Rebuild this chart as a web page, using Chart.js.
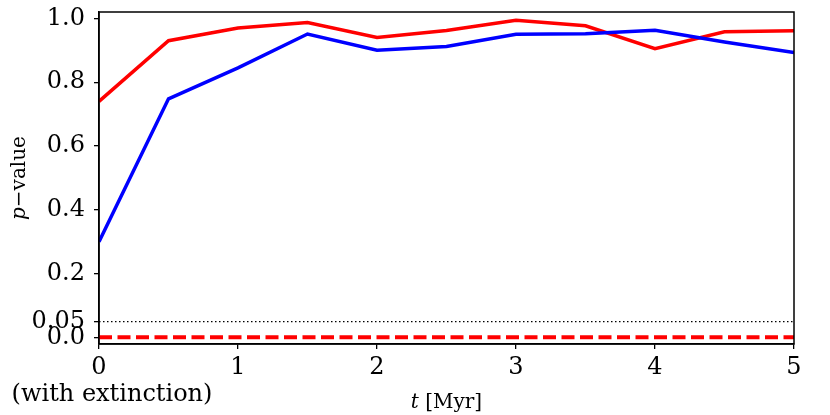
<!DOCTYPE html>
<html lang="en">
<head>
    <meta charset="UTF-8">
    <script src="https://cdn.jsdelivr.net/npm/chart.js"></script>
    <title>p-value vs t</title>
    <style>
        body { margin: 0; background: #fff; }
        #chart { display: block; }
    </style>
</head>
<body>
    <canvas id="chart" width="830" height="415"></canvas>
    <script>
        // time steps [Myr]
        const tValues = [0, 0.5, 1, 1.5, 2, 2.5, 3, 3.5, 4, 4.5, 5];
        const redValues = [0.74, 0.93, 0.97, 0.987, 0.94, 0.962, 0.994, 0.977, 0.905, 0.958, 0.961];
        const blueValues = [0.30, 0.748, 0.845, 0.951, 0.90, 0.912, 0.95, 0.952, 0.963, 0.926, 0.893];
        const redDashedValues = [0.001, 0.001, 0.001, 0.001, 0.001, 0.001, 0.001, 0.001, 0.001, 0.001, 0.001];
        const thresholdX = [0, 5];
        const thresholdValues = [0.05, 0.05];
        const yTickValues = [0, 0.05, 0.2, 0.4, 0.6, 0.8, 1.0];
        const yTickLabels = ['0.0', '0.05', '0.2', '0.4', '0.6', '0.8', '1.0'];
        const xTickValues = [0, 1, 2, 3, 4, 5];

        const serif = '"DejaVu Serif", serif';

        function toPoints(xs, ys) {
            return xs.map((x, i) => ({ x: x, y: ys[i] }));
        }

        // frame + axis titles drawn by hand (italic p and t)
        const extras = {
            id: 'extras',
            afterDraw(chart) {
                const ctx = chart.ctx;
                const a = chart.chartArea;
                ctx.save();
                ctx.strokeStyle = '#000';
                ctx.lineWidth = 1.5;
                ctx.strokeRect(a.left, a.top, a.right - a.left, a.bottom - a.top);

                ctx.fillStyle = '#000';
                ctx.textBaseline = 'alphabetic';

                // x title: "t [Myr]"
                ctx.font = 'italic 20px ' + serif;
                const tW = ctx.measureText('t ').width;
                ctx.font = '20px ' + serif;
                const restW = ctx.measureText('[Myr]').width;
                let x0 = (a.left + a.right) / 2 - (tW + restW) / 2;
                ctx.font = 'italic 20px ' + serif;
                ctx.textAlign = 'left';
                ctx.fillText('t ', x0, 408);
                ctx.font = '20px ' + serif;
                ctx.fillText('[Myr]', x0 + tW, 408);

                // note under the 0 tick
                ctx.font = '24px ' + serif;
                ctx.textAlign = 'center';
                ctx.fillText('(with extinction)', 112, 401);

                // y title: "p−value"
                ctx.translate(25, (a.top + a.bottom) / 2);
                ctx.rotate(-Math.PI / 2);
                ctx.font = 'italic 20px ' + serif;
                const pW = ctx.measureText('p').width;
                ctx.font = '20px ' + serif;
                const vW = ctx.measureText('\u2212value').width;
                const y0 = -(pW + vW) / 2;
                ctx.textAlign = 'left';
                ctx.font = 'italic 20px ' + serif;
                ctx.fillText('p', y0, 0);
                ctx.font = '20px ' + serif;
                ctx.fillText('\u2212value', y0 + pW, 0);
                ctx.restore();
            }
        };

        const ctx = document.getElementById('chart').getContext('2d');
        new Chart(ctx, {
            type: 'line',
            data: {
                datasets: [
                    {
                        label: 'threshold',
                        data: toPoints(thresholdX, thresholdValues),
                        borderColor: '#000',
                        borderWidth: 1.3,
                        borderDash: [1.5, 2.5],
                        pointRadius: 0
                    },
                    {
                        label: 'red dashed',
                        data: toPoints(tValues, redDashedValues),
                        borderColor: '#ff0000',
                        borderWidth: 4,
                        borderDash: [13, 5.5],
                        pointRadius: 0
                    },
                    {
                        label: 'blue',
                        data: toPoints(tValues, blueValues),
                        borderColor: '#0000ff',
                        borderWidth: 3.5,
                        pointRadius: 0
                    },
                    {
                        label: 'red',
                        data: toPoints(tValues, redValues),
                        borderColor: '#ff0000',
                        borderWidth: 3.5,
                        pointRadius: 0
                    }
                ]
            },
            plugins: [extras],
            options: {
                responsive: false,
                animation: false,
                layout: { padding: { top: 12, right: 36, left: 0, bottom: 0 } },
                plugins: {
                    legend: { display: false },
                    tooltip: { enabled: false }
                },
                scales: {
                    x: {
                        type: 'linear',
                        min: 0,
                        max: 5,
                        afterBuildTicks: (scale) => {
                            scale.ticks = xTickValues.map(v => ({ value: v }));
                        },
                        afterFit: (scale) => {
                            scale.height = 71;
                            scale.paddingLeft = 0;
                            scale.paddingRight = 0;
                        },
                        grid: { display: true, drawOnChartArea: false, drawTicks: true, tickLength: 5, color: '#000', lineWidth: 1.3 },
                        border: { display: true, color: '#000', width: 1.5 },
                        ticks: {
                            color: '#000',
                            font: { family: serif, size: 24 },
                            padding: 4,
                            maxRotation: 0,
                            autoSkip: false,
                            callback: (v) => String(v)
                        }
                    },
                    y: {
                        type: 'linear',
                        min: -0.02,
                        max: 1.02,
                        afterBuildTicks: (scale) => {
                            scale.ticks = yTickValues.map(v => ({ value: v }));
                        },
                        afterFit: (scale) => {
                            scale.width = 99;
                            scale.paddingTop = 0;
                            scale.paddingBottom = 0;
                        },
                        grid: { display: true, drawOnChartArea: false, drawTicks: true, tickLength: 5, color: '#000', lineWidth: 1.3 },
                        border: { display: true, color: '#000', width: 1.5 },
                        ticks: {
                            color: '#000',
                            font: { family: serif, size: 24 },
                            padding: 9,
                            autoSkip: false,
                            callback: (v) => {
                                const i = yTickValues.indexOf(v);
                                return i >= 0 ? yTickLabels[i] : '';
                            }
                        }
                    }
                }
            }
        });
    </script>
</body>
</html>
